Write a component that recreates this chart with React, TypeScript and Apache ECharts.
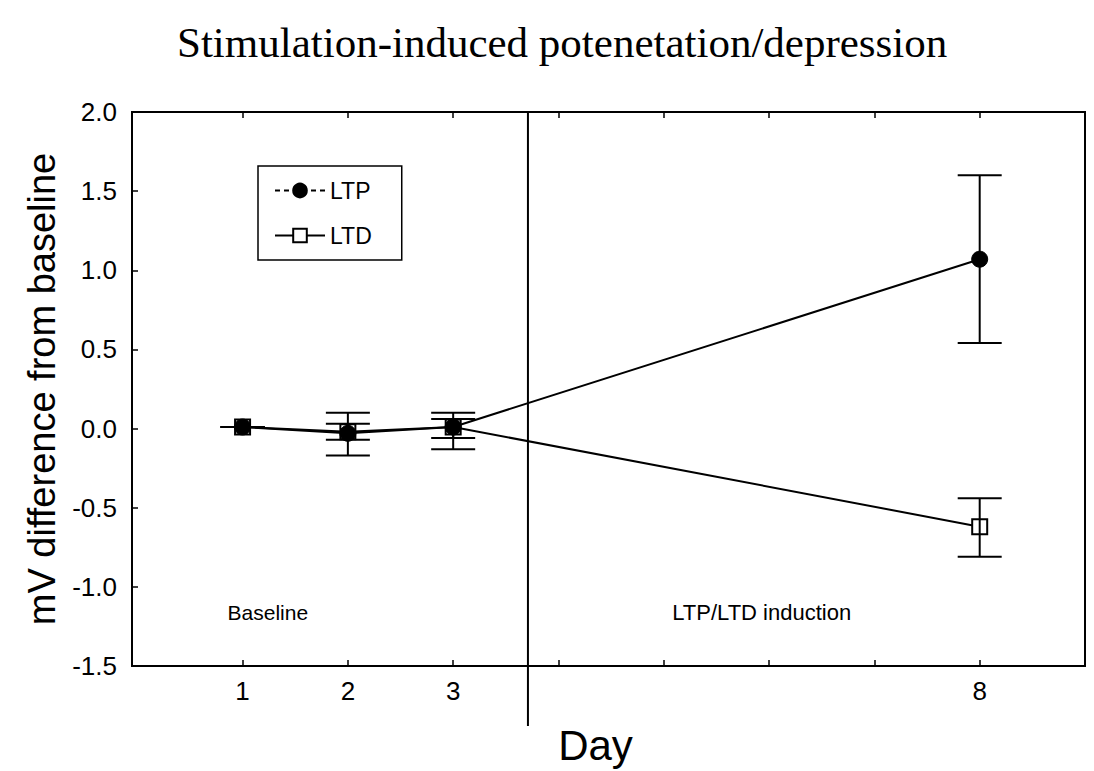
import React, { useEffect, useRef } from "react";
import * as echarts from "echarts";

const days = [1, 2, 3, 8];
const ltpMean = [0.01, -0.03, 0.01, 1.07];
const ltpLow = [0.01, -0.17, -0.13, 0.54];
const ltpHigh = [0.01, 0.10, 0.10, 1.60];
const ltdMean = [0.01, -0.02, 0.01, -0.62];
const ltdLow = [0.01, -0.07, -0.06, -0.81];
const ltdHigh = [0.01, 0.03, 0.06, -0.44];
const xTicks = [1, 2, 3, 4, 5, 6, 7, 8];
const xLabels = [1, 2, 3, 8];
const inductionDay = 3.71;

export default function App() {
  const ref = useRef<HTMLDivElement>(null);
  useEffect(() => {
    if (!ref.current) return;
    const chart = echarts.init(ref.current, null, { renderer: "svg" });
    const sans = "Liberation Sans, Arial, sans-serif";
    const errRender = (params: any, api: any) => {
      const x = api.value(0);
      const lo = api.coord([x, api.value(1)]);
      const hi = api.coord([x, api.value(2)]);
      const hw = 22;
      const style = { stroke: "#000", lineWidth: 2 };
      return {
        type: "group",
        children: [
          { type: "line", shape: { x1: lo[0], y1: lo[1], x2: hi[0], y2: hi[1] }, style },
          { type: "line", shape: { x1: lo[0] - hw, y1: lo[1], x2: lo[0] + hw, y2: lo[1] }, style },
          { type: "line", shape: { x1: hi[0] - hw, y1: hi[1], x2: hi[0] + hw, y2: hi[1] }, style },
        ],
      };
    };
    const axisLineStyle = { lineStyle: { color: "#000", width: 2 }, onZero: false };
    chart.setOption({
      animation: false,
      backgroundColor: "#fff",
      title: {
        text: "Stimulation-induced potenetation/depression",
        left: 172,
        top: 16,
        textStyle: { fontFamily: "Liberation Serif, Times New Roman, serif", fontSize: 43, fontWeight: "normal", color: "#000" },
      },
      grid: { left: 132, right: 9, top: 112, bottom: 103, show: true, borderColor: "#000", borderWidth: 2 },
      legend: {
        orient: "vertical",
        left: 258,
        top: 166,
        data: [
          { name: "LTP", lineStyle: { type: [5, 4] } },
          { name: "LTD" },
        ],
        itemWidth: 50,
        itemHeight: 17,
        itemGap: 22,
        padding: [13, 30, 13, 16],
        borderColor: "#000",
        borderWidth: 1.5,
        textStyle: { fontFamily: sans, fontSize: 23, color: "#000" },
      },
      xAxis: [
        {
          type: "value",
          min: -0.05,
          max: 9,
          name: "Day",
          nameLocation: "middle",
          nameGap: 58,
          nameTextStyle: { fontFamily: sans, fontSize: 42, color: "#000", padding: [0, 26, 0, 0] },
          axisLine: axisLineStyle,
          axisTick: { inside: true, length: 6, customValues: xTicks, lineStyle: { color: "#000", width: 1.5 } },
          axisLabel: { customValues: xLabels, fontFamily: sans, fontSize: 26, color: "#000", margin: 12 },
          splitLine: { show: false },
        },
        {
          type: "value",
          position: "top",
          min: -0.05,
          max: 9,
          axisLine: axisLineStyle,
          axisTick: { inside: true, length: 6, customValues: xTicks, lineStyle: { color: "#000", width: 1.5 } },
          axisLabel: { show: false },
          splitLine: { show: false },
        },
      ],
      yAxis: {
        type: "value",
        min: -1.5,
        max: 2.0,
        interval: 0.5,
        name: "mV difference from baseline",
        nameLocation: "middle",
        nameGap: 68,
        nameTextStyle: { fontFamily: sans, fontSize: 38, color: "#000" },
        axisLine: axisLineStyle,
        axisTick: { inside: true, length: 6, lineStyle: { color: "#000", width: 1.5 } },
        axisLabel: { fontFamily: sans, fontSize: 26, color: "#000", margin: 15, formatter: (v: number) => v.toFixed(1) },
        splitLine: { show: false },
      },
      series: [
        {
          name: "LTD",
          type: "line",
          data: days.map((d, i) => [d, ltdMean[i]]),
          symbol: "rect",
          symbolSize: 15,
          itemStyle: { color: "#fff", borderColor: "#000", borderWidth: 2 },
          lineStyle: { color: "#000", width: 2 },
          z: 3,
        },
        {
          name: "LTP",
          type: "line",
          data: days.map((d, i) => [d, ltpMean[i]]),
          symbol: "circle",
          symbolSize: 16,
          itemStyle: { color: "#000", borderColor: "#000", borderWidth: 1 },
          lineStyle: { color: "#000", width: 2 },
          z: 4,
        },
        {
          type: "custom",
          renderItem: errRender,
          data: days.map((d, i) => [d, ltpLow[i], ltpHigh[i]]),
          z: 5,
          silent: true,
        },
        {
          type: "custom",
          renderItem: errRender,
          data: days.map((d, i) => [d, ltdLow[i], ltdHigh[i]]),
          z: 5,
          silent: true,
        },
      ],
    });
    const x = chart.convertToPixel({ xAxisIndex: 0 }, inductionDay) as number;
    const yTop = chart.convertToPixel({ yAxisIndex: 0 }, 2.0) as number;
    const bl = chart.convertToPixel({ xAxisIndex: 0, yAxisIndex: 0 }, [1.24, -1.16]) as number[];
    const ind = chart.convertToPixel({ xAxisIndex: 0, yAxisIndex: 0 }, [5.93, -1.16]) as number[];
    chart.setOption({
      graphic: [
        { type: "line", shape: { x1: x, y1: yTop, x2: x, y2: 726 }, style: { stroke: "#000", lineWidth: 2 }, z: 10 },
        { type: "text", x: bl[0], y: bl[1], style: { text: "Baseline", fontFamily: sans, fontSize: 21, fill: "#000", align: "center", verticalAlign: "middle" } },
        { type: "text", x: ind[0], y: ind[1], style: { text: "LTP/LTD induction", fontFamily: sans, fontSize: 22, fill: "#000", align: "center", verticalAlign: "middle" } },
      ],
    });
    return () => chart.dispose();
  }, []);
  return <div ref={ref} style={{ width: 1094, height: 771, position: "absolute", left: 0, top: 0 }} />;
}
